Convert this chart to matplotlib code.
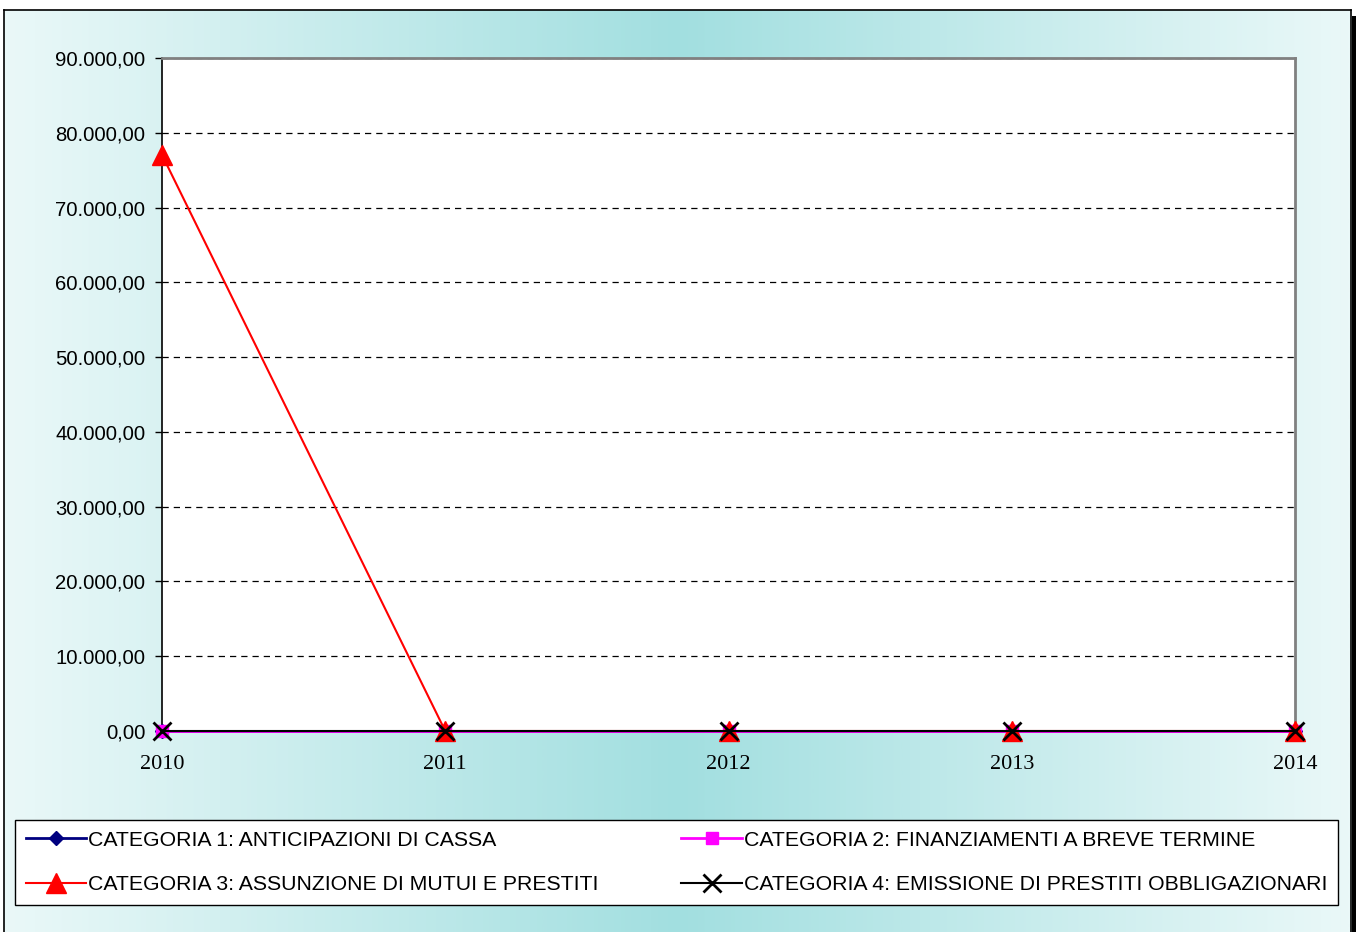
import numpy as np
import matplotlib
matplotlib.use("Agg")
import matplotlib.pyplot as plt
from matplotlib.colors import LinearSegmentedColormap
from matplotlib.patches import Rectangle
from matplotlib.ticker import FuncFormatter

# data
years = [2010, 2011, 2012, 2013, 2014]
cat1 = [0, 0, 0, 0, 0]
cat2 = [0, 0, 0, 0, 0]
cat3 = [77050, 0, 0, 0, 0]
cat4 = [0, 0, 0, 0, 0]
labels = ["CATEGORIA 1: ANTICIPAZIONI DI CASSA",
          "CATEGORIA 2: FINANZIAMENTI A BREVE TERMINE",
          "CATEGORIA 3: ASSUNZIONE DI MUTUI E PRESTITI",
          "CATEGORIA 4: EMISSIONE DI PRESTITI OBBLIGAZIONARI"]
yticks = np.arange(0, 90001, 10000)

W, H = 1356, 932
fig = plt.figure(figsize=(W / 100, H / 100), dpi=100)
fig.patch.set_facecolor("white")

# right shadow of the chart frame
fig.patches.append(Rectangle((1350 / W, 0), 6 / W, 1 - 16 / H, transform=fig.transFigure,
                             facecolor="black", edgecolor="none", zorder=-1))

# gradient background inside the chart frame
fx0, fy0, fx1, fy1 = 4, 10, 1351, 940
bg = fig.add_axes([fx0 / W, 1 - fy1 / H, (fx1 - fx0) / W, (fy1 - fy0) / H])
cmap = LinearSegmentedColormap.from_list("bg", ["#eaf8f8", "#a2dfe0", "#eaf8f8"])
bg.imshow(np.linspace(0, 1, 512)[None, :], aspect="auto", cmap=cmap,
          extent=[0, 1, 0, 1])
bg.set_xticks([])
bg.set_yticks([])
for s in bg.spines.values():
    s.set_color("black")
    s.set_linewidth(1.2)

# plot area
ax_l, ax_r, ax_t, ax_b = 162, 1295, 58, 731
ax = fig.add_axes([ax_l / W, 1 - ax_b / H, (ax_r - ax_l) / W, (ax_b - ax_t) / H])
ax.set_facecolor("white")

l1, = ax.plot(years, cat1, color="#000080", lw=2, marker="D", ms=7, mfc="#000080",
              mec="#000080", label=labels[0], clip_on=False, zorder=3)
l2, = ax.plot(years, cat2, color="#ff00ff", lw=2, marker="s", ms=9, mfc="#ff00ff",
              mec="#ff00ff", label=labels[1], clip_on=False, zorder=4)
l3, = ax.plot(years, cat3, color="#ff0000", lw=1.5, marker="^", ms=14, mfc="#ff0000",
              mec="#ff0000", label=labels[2], clip_on=False, zorder=5)
l4, = ax.plot(years, cat4, color="black", lw=1.5, marker="x", ms=13, mew=2,
              label=labels[3], clip_on=False, zorder=6)

ax.set_xlim(2010, 2014)
ax.set_ylim(0, 90000)
ax.set_xticks(years)
ax.set_yticks(yticks)
ax.yaxis.set_major_formatter(FuncFormatter(
    lambda v, p: "{:,.2f}".format(v).replace(",", "X").replace(".", ",").replace("X", ".")))
ax.grid(axis="y", color="black", lw=0.9, linestyle=(0, (5, 4)))
ax.set_axisbelow(True)

ax.tick_params(axis="y", length=5, width=1, pad=7, labelsize=14.6)
ax.tick_params(axis="x", length=0, pad=17, labelsize=16)
for lab in ax.get_yticklabels():
    lab.set_fontfamily("Liberation Sans")
for lab in ax.get_xticklabels():
    lab.set_fontfamily("Liberation Serif")

ax.spines["left"].set_color("black")
ax.spines["left"].set_linewidth(1.2)
ax.spines["bottom"].set_color("black")
for side in ["top", "right"]:
    ax.spines[side].set_color("#808080")
    ax.spines[side].set_linewidth(2)

# legend, filled row by row
lx0, lx1, ly0 = 15, 1338, 820
leg = fig.legend([l1, l3, l2, l4], [labels[0], labels[2], labels[1], labels[3]],
                 loc="upper left", ncol=2, mode="expand",
                 bbox_to_anchor=(lx0 / W, 1 - ly0 / H, (lx1 - lx0) / W, 0.0),
                 bbox_transform=fig.transFigure,
                 prop={"family": "Liberation Sans", "size": 15.3},
                 handlelength=2.85, handletextpad=0.1, labelspacing=1.2,
                 borderpad=0.5, borderaxespad=0, fancybox=False,
                 framealpha=1, edgecolor="black", columnspacing=1.0)
leg.get_frame().set_linewidth(1)

fig.savefig("out.png", dpi=100)
